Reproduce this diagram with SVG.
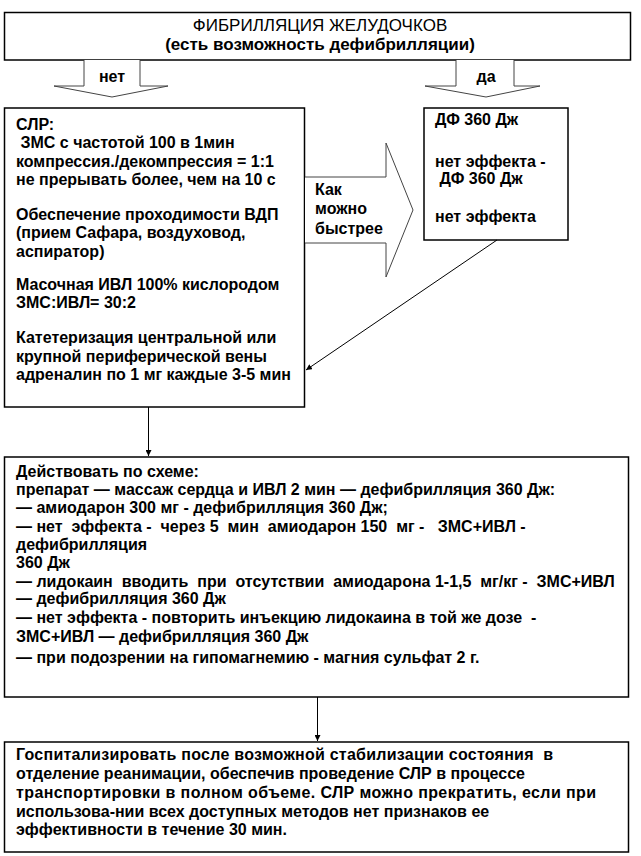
<svg xmlns="http://www.w3.org/2000/svg" width="641" height="856" viewBox="0 0 641 856">
<defs>
<style>
.box{fill:#fff;stroke:#000;stroke-width:1.5}
.barrow{fill:#fff;stroke:#444;stroke-width:1}
.t{font-family:"Liberation Sans",Arial,sans-serif;font-size:16px;font-weight:bold;fill:#000}
.h{font-family:"Liberation Sans",Arial,sans-serif;font-size:17px;fill:#000}
.c{stroke:#000;stroke-width:1;fill:none}
</style>
<marker id="ah" viewBox="0 0 10 10" refX="10" refY="5" markerWidth="6" markerHeight="6" markerUnits="userSpaceOnUse" orient="auto">
<path d="M0,0 L10,5 L0,10 z" fill="#000"/>
</marker>
</defs>
<rect width="641" height="856" fill="#fff"/>

<g id="title">
<rect class="box" x="4.5" y="12.5" width="626" height="47.5"/>
<text class="h" x="320" y="31" text-anchor="middle">ФИБРИЛЛЯЦИЯ ЖЕЛУДОЧКОВ</text>
<text class="h" x="320" y="50" text-anchor="middle" font-weight="bold">(есть возможность дефибрилляции)</text>
</g>

<g id="arrow-net">
<path class="barrow" d="M84,60 V86 H54 L112,97 L168,86 H140 V60"/>
<text class="t" x="112" y="82" text-anchor="middle">нет</text>
</g>

<g id="arrow-da">
<path class="barrow" d="M456,60 V86 H425 L486,97 L540,86 H514 V60"/>
<text class="t" x="486" y="82" text-anchor="middle">да</text>
</g>

<g id="slr">
<rect class="box" x="4.5" y="108" width="300" height="299"/>
<text class="t" x="16" y="130">СЛР:</text>
<text class="t" x="16" y="148" xml:space="preserve"> ЗМС с частотой 100 в 1мин</text>
<text class="t" x="16" y="167">компрессия./декомпрессия = 1:1</text>
<text class="t" x="16" y="185">не прерывать более, чем на 10 с</text>
<text class="t" x="16" y="220">Обеспечение проходимости ВДП</text>
<text class="t" x="16" y="238">(прием Сафара, воздуховод,</text>
<text class="t" x="16" y="257">аспиратор)</text>
<text class="t" x="16" y="290">Масочная ИВЛ 100% кислородом</text>
<text class="t" x="16" y="308">ЗМС:ИВЛ= 30:2</text>
<text class="t" x="16" y="343">Катетеризация центральной или</text>
<text class="t" x="16" y="362">крупной периферической вены</text>
<text class="t" x="16" y="380">адреналин по 1 мг каждые 3-5 мин</text>
</g>

<g id="arrow-fast">
<path class="barrow" d="M305,177 H386 V143 L413,210 L386,277 V243 H305"/>
<text class="t" x="315" y="195">Как</text>
<text class="t" x="315" y="214">можно</text>
<text class="t" x="315" y="234">быстрее</text>
</g>

<g id="df">
<rect class="box" x="424" y="108" width="144" height="132"/>
<text class="t" x="435" y="125">ДФ 360 Дж</text>
<text class="t" x="435" y="167">нет эффекта -</text>
<text class="t" x="435" y="184" xml:space="preserve"> ДФ 360 Дж</text>
<text class="t" x="435" y="222">нет эффекта</text>
</g>

<g id="scheme">
<rect class="box" x="4.5" y="457" width="624" height="240"/>
<text class="t" x="16" y="477">Действовать по схеме:</text>
<text class="t" x="16" y="495">препарат — массаж сердца и ИВЛ 2 мин — дефибрилляция 360 Дж:</text>
<text class="t" x="16" y="513">— амиодарон 300 мг - дефибрилляция 360 Дж;</text>
<text class="t" x="16" y="532" xml:space="preserve">— нет  эффекта -  через 5  мин  амиодарон 150  мг -   ЗМС+ИВЛ -</text>
<text class="t" x="16" y="550">дефибрилляция</text>
<text class="t" x="16" y="568">360 Дж</text>
<text class="t" x="16" y="587" xml:space="preserve">— лидокаин  вводить  при  отсутствии  амиодарона 1-1,5  мг/кг -  ЗМС+ИВЛ</text>
<text class="t" x="16" y="604">— дефибрилляция 360 Дж</text>
<text class="t" x="16" y="623" xml:space="preserve">— нет эффекта - повторить инъекцию лидокаина в той же дозе  -</text>
<text class="t" x="16" y="642">ЗМС+ИВЛ — дефибрилляция 360 Дж</text>
<text class="t" x="16" y="663">— при подозрении на гипомагнемию - магния сульфат 2 г.</text>
</g>

<g id="hosp">
<rect class="box" x="4.5" y="742" width="624" height="110"/>
<text class="t" x="16" y="760" textLength="537" lengthAdjust="spacing" xml:space="preserve">Госпитализировать после возможной стабилизации состояния  в</text>
<text class="t" x="16" y="779" textLength="509" lengthAdjust="spacing">отделение реанимации, обеспечив проведение СЛР в процессе</text>
<text class="t" x="16" y="798" textLength="580" lengthAdjust="spacing">транспортировки в полном объеме. СЛР можно прекратить, если при</text>
<text class="t" x="16" y="817">использова-нии всех доступных методов нет признаков ее</text>
<text class="t" x="16" y="835">эффективности в течение 30 мин.</text>
</g>

<g id="connectors">
<line class="c" x1="497" y1="240" x2="306" y2="370" marker-end="url(#ah)"/>
<line class="c" x1="148.5" y1="407" x2="148.5" y2="456" marker-end="url(#ah)"/>
<line class="c" x1="317.5" y1="697" x2="317.5" y2="741" marker-end="url(#ah)"/>
</g>
</svg>
